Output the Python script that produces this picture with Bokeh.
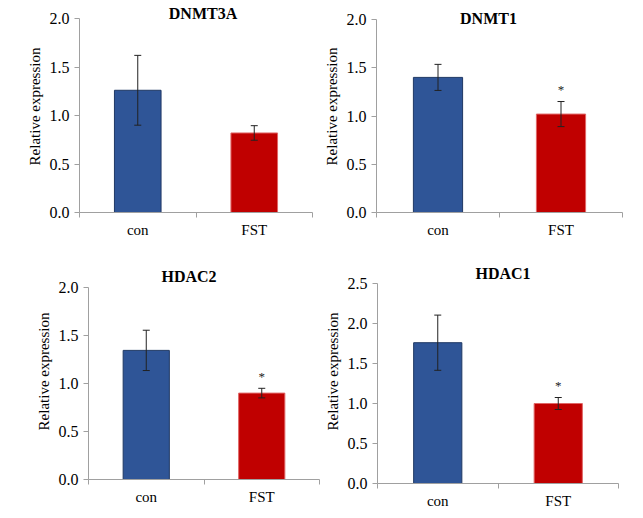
from bokeh.plotting import figure
from bokeh.models import (ColumnDataSource, Range1d, FixedTicker, NumeralTickFormatter,
                          Whisker, TeeHead, Label)
from bokeh.layouts import column, row
from bokeh.embed import file_html
from bokeh.resources import INLINE

# ---------------- data ----------------
categories = ["con", "FST"]
genes = ["DNMT3A", "DNMT1", "HDAC2", "HDAC1"]
means = {
    "DNMT3A": [1.26, 0.82],
    "DNMT1": [1.40, 1.02],
    "HDAC2": [1.345, 0.90],
    "HDAC1": [1.76, 1.00],
}
errors = {
    "DNMT3A": [0.36, 0.075],
    "DNMT1": [0.135, 0.13],
    "HDAC2": [0.21, 0.05],
    "HDAC1": [0.345, 0.075],
}
significance = {
    "DNMT3A": ["", ""],
    "DNMT1": ["", "*"],
    "HDAC2": ["", "*"],
    "HDAC1": ["", "*"],
}
y_max = {"DNMT3A": 2.0, "DNMT1": 2.0, "HDAC2": 2.0, "HDAC1": 2.5}
y_ticks = {
    "DNMT3A": [0.0, 0.5, 1.0, 1.5, 2.0],
    "DNMT1": [0.0, 0.5, 1.0, 1.5, 2.0],
    "HDAC2": [0.0, 0.5, 1.0, 1.5, 2.0],
    "HDAC1": [0.0, 0.5, 1.0, 1.5, 2.0, 2.5],
}
y_label = "Relative expression"

# ---------------- styles / layout ----------------
FONT = "Liberation Serif"
BAR_FILL = ["#2F5597", "#C00000"]
BAR_LINE = ["#1F3864", "#E06666"]
AXIS_COLOR = "#A0A0A0"

# (fig height, border_left, border_right, axis top (px from fig top),
#  axis length px, headroom px above axis for the title, title_dx, title_dy)
layout_cfg = {
    "DNMT3A": (250, 79, 8, 18, 194, 18, 7, 5),
    "DNMT1": (250, 53, 18, 19, 193, 19, -11, 1),
    "HDAC2": (266, 88, 1, 37, 192, 24, -15, 11),
    "HDAC1": (266, 57, 22, 33, 200, 24, 5, 10),
}


def make_panel(gene):
    H, bl, br, atop, alen, head, tdx, tdy = layout_cfg[gene]
    n = len(categories)
    xs = [i + 0.5 for i in range(n)]
    m = means[gene]
    e = errors[gene]
    src = ColumnDataSource(dict(
        x=xs, top=m,
        upper=[a + b for a, b in zip(m, e)],
        lower=[a - b for a, b in zip(m, e)],
        fill=BAR_FILL, line=BAR_LINE,
    ))
    bt = atop - head
    bb = H - atop - alen
    y_end = y_max[gene] * (alen + head) / alen   # extra headroom so the title can sit in the frame
    p = figure(width=320, height=H, x_range=Range1d(0, n), y_range=Range1d(0, y_end),
               output_backend="svg", toolbar_location=None,
               min_border_left=bl, min_border_right=br,
               min_border_top=bt, min_border_bottom=bb)
    p.outline_line_color = None
    p.grid.visible = False
    p.background_fill_color = "white"
    p.border_fill_color = "white"

    p.vbar(x="x", top="top", width=0.4, source=src, fill_color="fill",
           line_color="line", line_width=1)

    w = Whisker(base="x", upper="upper", lower="lower", source=src, dimension="height",
                line_color="#222222", line_width=1, level="overlay",
                upper_head=TeeHead(size=7, line_color="#222222", line_width=1),
                lower_head=TeeHead(size=7, line_color="#222222", line_width=1))
    p.add_layout(w)

    # significance stars
    for xi, ui, s in zip(xs, src.data["upper"], significance[gene]):
        if s:
            p.add_layout(Label(x=xi, y=ui, text=s, y_offset=12, text_align="center",
                               text_baseline="alphabetic", text_font=FONT,
                               text_font_size="13px", text_color="#222222"))

    # title
    p.add_layout(Label(x=n / 2, y=y_max[gene], text=gene, x_offset=tdx, y_offset=tdy,
                       text_align="center", text_baseline="middle", text_font=FONT,
                       text_font_size="16px", text_font_style="bold", text_color="black"))

    # x axis
    xa = p.xaxis[0]
    xa.ticker = FixedTicker(ticks=xs, minor_ticks=list(range(n + 1)))
    xa.major_label_overrides = {x: c for x, c in zip(xs, categories)}
    xa.major_tick_out = 0
    xa.major_tick_in = 0
    xa.minor_tick_out = 5
    xa.minor_tick_in = 0
    xa.minor_tick_line_color = AXIS_COLOR
    xa.axis_line_color = AXIS_COLOR
    xa.major_label_standoff = 4
    xa.major_label_text_font = FONT
    xa.major_label_text_font_size = "15px"
    xa.major_label_text_color = "black"

    # y axis
    ya = p.yaxis[0]
    ya.bounds = (0, y_max[gene])
    ya.ticker = FixedTicker(ticks=y_ticks[gene], minor_ticks=[])
    ya.formatter = NumeralTickFormatter(format="0.0")
    ya.major_tick_out = 5
    ya.major_tick_in = 0
    ya.minor_tick_out = 0
    ya.minor_tick_in = 0
    ya.major_tick_line_color = AXIS_COLOR
    ya.axis_line_color = AXIS_COLOR
    ya.major_label_standoff = 5
    ya.major_label_text_font = FONT
    ya.major_label_text_font_size = "16px"
    ya.major_label_text_color = "black"
    ya.axis_label = y_label
    ya.axis_label_text_font = FONT
    ya.axis_label_text_font_size = "15px"
    ya.axis_label_text_font_style = "normal"
    ya.axis_label_text_color = "black"
    ya.axis_label_standoff = 4
    return p


panels = [make_panel(g) for g in genes]
layout = column(row(column(panels[0]), column(panels[1])),
                row(column(panels[2]), column(panels[3])))

open("out.html", "w").write(file_html(layout, INLINE))
